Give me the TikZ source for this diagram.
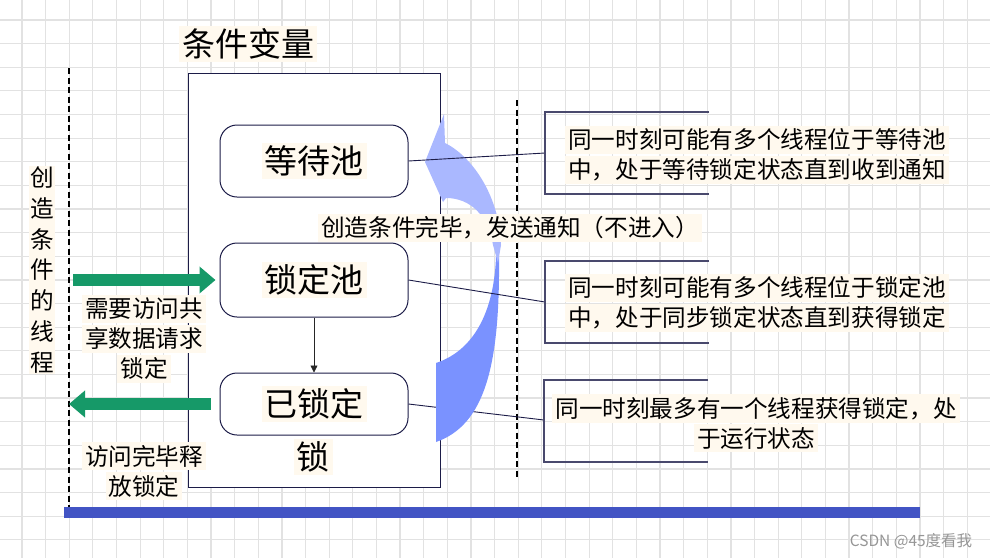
\documentclass[tikz,border=0pt]{standalone}
\usepackage{fontspec}
\setmainfont{Noto Sans CJK SC}
\usepackage{xcolor}
\definecolor{cvnavy}{RGB}{28,28,72}
\definecolor{cvgrid}{RGB}{226,226,226}
\definecolor{cvcream}{RGB}{255,249,238}
\definecolor{cvgreen}{RGB}{22,153,104}
\definecolor{cvbar}{RGB}{66,84,196}
\definecolor{cvlight}{RGB}{170,184,255}
\definecolor{cvdark}{RGB}{122,146,255}
\definecolor{cvgray}{RGB}{150,150,150}
\usetikzlibrary{arrows.meta}
\newcommand{\cvmark}[1]{{\setlength{\fboxsep}{3pt}\colorbox{cvcream}{#1}}}
\newcommand{\cvsmall}{\fontsize{23.6pt}{30pt}\selectfont}
\newcommand{\cvbig}{\fontsize{33pt}{38pt}\selectfont}

\begin{document}
\begin{tikzpicture}[x=1pt,y=-1pt,
  gridline/.style={draw=cvgrid,line width=1.2pt},
  pool/.style={draw=cvnavy,fill=white,rounded corners=17pt,line width=1pt,minimum width=188pt,inner sep=0pt,font=\cvbig},
  note/.style={align=center,inner sep=0pt,font=\cvsmall},
  bracket/.style={draw=cvnavy!80,line width=1.1pt},
  leader/.style={draw=cvnavy,line width=0.9pt},
  fatarrow/.style={draw=cvgreen,line width=12pt,-{Triangle[length=16pt,width=26pt]}},
  guide/.style={draw=black,line width=1.3pt,dash pattern=on 6pt off 3.5pt}]
  \useasboundingbox (0,0) rectangle (990,558);
  \fill[white] (0,0) rectangle (990,558);

  %% Background grid
  \foreach \k in {0,...,40} \draw[gridline] ({22+23.63*\k},0) -- ({22+23.63*\k},558);
  \foreach \k in {0,...,22} \draw[gridline] (0,{20+23.63*\k}) -- (990,{20+23.63*\k});

  %% Guides and base bar
  \draw[guide] (69,68) -- (69,507);
  \draw[guide] (517,100) -- (517,478);
  \fill[cvbar] (64,507) rectangle (920,518);

  %% Condition variable frame
  \draw[cvnavy,fill=white,line width=1pt] (188,73) rectangle (440,487);
  \node[font=\cvbig] (title) at (248,44) {\cvmark{条件变量}};

  %% Pools
  \node[pool,minimum height=72pt] (waitpool) at (314,161) {\cvmark{等待池}};
  \node[pool,minimum height=74pt] (lockpool) at (314,280) {\cvmark{锁定池}};
  \node[pool,minimum height=62pt] (locked)   at (314,404) {\cvmark{已锁定}};
  \node[font=\cvbig] (lockname) at (313,457) {\cvmark{锁}};
  \draw[black!85,line width=0.8pt,-{Triangle[length=7pt,width=7pt]}] (lockpool) -- (locked);

  %% Thread side
  \node[align=center,inner sep=1pt,fill=cvcream,font=\fontsize{23.6pt}{30.8pt}\selectfont] (thread) at (42,270) {创\\造\\条\\件\\的\\线\\程};
  \coordinate (reqstart) at (73,280);
  \coordinate (relend) at (69,404);
  \draw[fatarrow,shorten >=4pt] (reqstart) -- (lockpool.west);
  \draw[fatarrow,shorten <=9pt] (locked.west) -- (relend);
  \node[note] (reqtext) at (144,339) {\cvmark{需要访问共}\\\cvmark{享数据请求}\\\cvmark{锁定}};
  \node[note] (reltext) at (144,471) {\cvmark{访问完毕释}\\\cvmark{放锁定}};

  %% Notes on the right
  \coordinate (waitbr) at (545,153);
  \coordinate (lockbr) at (545,302);
  \coordinate (heldbr) at (544,420);
  \draw[leader] (locked.east) -- (heldbr);

  %% Notify arrow
  \fill[cvdark] (436,363) -- (436,442) .. controls (485,425) and (500,365) .. (499,257) -- (496,257) .. controls (494,310) and (475,350) .. (436,363) -- cycle;
  \fill[cvlight] (444,114) -- (445,143) .. controls (475,158) and (500,200) .. (501,245) -- (498,263) -- (493,245) .. controls (488,215) and (470,198) .. (446,198) -- (443,202) -- (425,162) -- cycle;

  \draw[leader] (waitpool.east) -- (waitbr);
  \draw[leader] (lockpool.east) -- (lockbr);
  \draw[bracket] (709,112) -| (545,194) -- (709,194);
  \draw[bracket] (709,261) -| (545,343) -- (709,343);
  \draw[bracket] (708,380) -| (544,462) -- (708,462);
  \node[note] (waitnote) at (757,155) {\cvmark{同一时刻可能有多个线程位于等待池}\\\cvmark{中，处于等待锁定状态直到收到通知}};
  \node[note] (locknote) at (757,303) {\cvmark{同一时刻可能有多个线程位于锁定池}\\\cvmark{中，处于同步锁定状态直到获得锁定}};
  \node[note] (heldnote) at (756,423) {\cvmark{同一时刻最多有一个线程获得锁定，处}\\\cvmark{于运行状态}};
  \node[note] (notify) at (510,228) {\cvmark{创造条件完毕，发送通知（不进入）}};

  %% Watermark
  \node[font=\fontsize{15.5pt}{18pt}\selectfont,text=cvgray] (mark) at (911,541) {CSDN @45度看我};
\end{tikzpicture}
\end{document}
